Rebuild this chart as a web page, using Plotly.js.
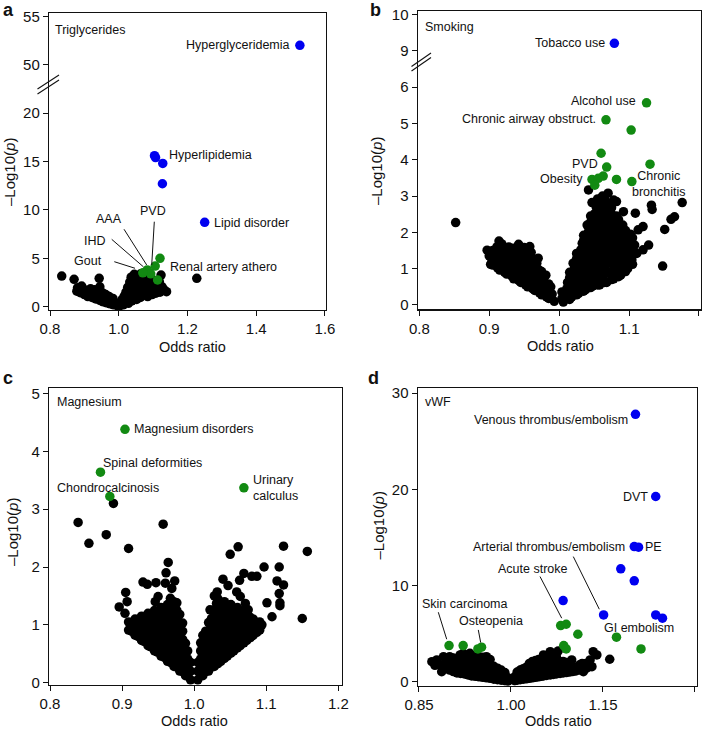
<!DOCTYPE html>
<html><head><meta charset="utf-8">
<script src="https://cdn.plot.ly/plotly-3.0.1.min.js"></script>
<style>html,body{margin:0;padding:0;background:#fff}#chart{width:709px;height:729px}</style>
</head><body><div id="chart"></div>
<script>
// ---------- DATA (odds ratio, -log10 p) ----------
const aBlack = [[0.834,3.17],[0.870,2.83],[0.943,2.93],[0.892,2.14],[1.227,2.93],[1.123,3.27],[1.118,2.58],
[0.878,1.60],[0.880,1.95],[0.888,1.45],[0.895,1.85],[0.900,1.25],[0.905,1.70],[0.910,1.05],[0.912,1.50],[0.918,1.85],[0.922,0.95],[0.925,1.35],[0.930,1.75],[0.933,0.80],[0.937,1.20],[0.940,1.60],[0.945,2.05],[0.945,0.65],[0.948,1.05],[0.952,1.45],[0.955,0.50],[0.958,0.90],[0.962,1.25],[0.965,0.40],[0.968,0.75],[0.972,1.05],[0.975,0.30],[0.978,0.60],[0.983,0.85],[0.985,0.20],[0.988,0.45],[0.993,0.25],[0.997,0.08],
[1.003,0.10],[1.007,0.40],[1.010,0.75],[1.013,0.20],[1.016,1.10],[1.018,0.50],[1.021,1.50],[1.024,0.85],[1.026,2.00],[1.028,0.35],[1.031,1.30],[1.032,2.55],[1.035,1.75],[1.036,3.05],[1.038,0.60],[1.040,2.25],[1.043,1.10],[1.045,3.35],[1.047,1.60],[1.049,2.80],[1.052,0.75],[1.054,2.05],[1.056,3.20],[1.058,1.30],[1.060,2.50],[1.063,0.95],[1.064,3.40],[1.066,1.75],[1.068,2.95],[1.070,2.20],[1.073,1.25],[1.075,3.15],[1.077,2.60],[1.079,1.70],[1.082,2.15],[1.084,1.05],[1.086,2.85],[1.089,1.50],[1.091,2.45],[1.094,1.95],[1.097,1.25],[1.099,2.75],[1.102,1.70],[1.105,2.20],[1.108,1.40],[1.111,2.55],[1.114,1.85],[1.120,1.50],[1.126,2.05],[1.132,1.75],[1.139,1.55]];
const aGreen = [[1.120,5.00],[1.106,4.20],[1.083,3.80],[1.093,3.40],[1.070,3.50],[1.113,2.76]];
const aBlue = [[1.527,52.0],[1.104,15.6],[1.107,15.4],[1.128,14.8],[1.127,12.7],[1.250,8.72]];

const bBlack = [[0.852,2.27],[1.042,3.17],[1.070,3.08],[1.047,2.82],[1.078,2.89],[1.132,2.75],[1.133,2.63],[1.176,2.82],[1.165,2.43],[1.160,2.36],[1.151,2.08],[1.148,1.07],[1.109,2.53],[1.092,2.57],[1.082,2.85],[1.120,2.16],[1.128,1.65],[1.120,1.52],[1.111,1.42],[1.104,1.24],[1.113,2.07],[1.108,1.65],[1.097,1.05],
[0.897,1.51],[0.914,1.76],[0.942,1.67],[0.958,1.61],[0.904,1.24],[0.930,1.47],[0.970,1.29],
[0.993,0.10],[0.990,0.30],[0.988,0.50],
[0.982,0.22],[0.980,0.42],[0.979,0.62],[0.981,0.82],
[0.972,0.33],[0.970,0.53],[0.969,0.75],[0.971,0.97],[0.968,1.15],
[0.962,0.45],[0.960,0.65],[0.959,0.87],[0.961,1.08],[0.958,1.30],[0.960,1.45],
[0.952,0.55],[0.950,0.77],[0.949,0.98],[0.951,1.20],[0.948,1.40],[0.950,1.58],
[0.942,0.68],[0.940,0.88],[0.939,1.10],[0.941,1.30],[0.938,1.50],
[0.932,0.80],[0.930,1.00],[0.929,1.22],[0.931,1.40],[0.928,1.60],
[0.922,0.90],[0.920,1.10],[0.919,1.32],[0.921,1.52],[0.918,1.68],
[0.912,1.02],[0.910,1.22],[0.909,1.42],[0.911,1.60],
[0.902,1.12],[0.900,1.35],
[0.985,0.18],[0.985,0.38],[0.985,0.58],
[0.975,0.28],[0.975,0.50],[0.975,0.72],[0.975,0.92],
[0.965,0.40],[0.965,0.62],[0.965,0.84],[0.965,1.05],[0.965,1.25],
[0.955,0.50],[0.955,0.72],[0.955,0.94],[0.955,1.15],[0.955,1.36],[0.955,1.52],
[0.945,0.62],[0.945,0.84],[0.945,1.05],[0.945,1.26],[0.945,1.46],
[0.935,0.72],[0.935,0.94],[0.935,1.15],[0.935,1.36],[0.935,1.56],
[0.925,0.85],[0.925,1.06],[0.925,1.27],[0.925,1.48],
[0.915,0.96],[0.915,1.18],[0.915,1.40],[0.915,1.62],
[0.905,1.10],[0.905,1.32],[0.905,1.50],
[1.006,0.08],[1.009,0.25],[1.011,0.45],[1.012,0.62],
[1.018,0.22],[1.020,0.42],[1.021,0.62],[1.019,0.82],[1.022,1.02],[1.020,1.15],
[1.028,0.32],[1.030,0.52],[1.031,0.72],[1.029,0.92],[1.032,1.12],[1.030,1.32],[1.031,1.52],[1.033,1.70],
[1.038,0.42],[1.040,0.62],[1.041,0.82],[1.039,1.02],[1.042,1.22],[1.040,1.42],[1.041,1.62],[1.039,1.82],[1.042,2.02],[1.040,2.20],
[1.048,0.52],[1.050,0.72],[1.051,0.92],[1.049,1.12],[1.052,1.32],[1.050,1.52],[1.051,1.72],[1.049,1.92],[1.052,2.12],[1.050,2.32],[1.051,2.52],[1.053,2.70],
[1.058,0.55],[1.060,0.78],[1.061,1.02],[1.059,1.22],[1.062,1.42],[1.060,1.62],[1.061,1.82],[1.059,2.02],[1.062,2.22],[1.060,2.42],[1.061,2.62],[1.059,2.82],[1.062,3.00],
[1.068,0.62],[1.070,0.90],[1.071,1.15],[1.069,1.35],[1.072,1.55],[1.070,1.75],[1.071,1.95],[1.069,2.15],[1.072,2.35],[1.070,2.55],[1.071,2.80],
[1.078,0.72],[1.080,0.98],[1.081,1.25],[1.079,1.45],[1.082,1.65],[1.080,1.85],[1.081,2.05],[1.079,2.25],[1.082,2.45],
[1.088,0.82],[1.090,1.08],[1.091,1.38],[1.089,1.58],[1.092,1.78],[1.090,1.98],[1.091,2.20],
[1.098,1.00],[1.100,1.30],[1.101,1.55],[1.099,1.75],[1.102,1.95],
[1.004,0.18],[1.004,0.36],
[1.015,0.15],[1.015,0.35],[1.015,0.55],[1.015,0.75],[1.015,0.90],
[1.025,0.28],[1.025,0.48],[1.025,0.68],[1.025,0.88],[1.025,1.08],[1.025,1.28],[1.025,1.42],
[1.035,0.38],[1.035,0.58],[1.035,0.78],[1.035,0.98],[1.035,1.18],[1.035,1.38],[1.035,1.58],[1.035,1.78],[1.035,1.92],
[1.045,0.48],[1.045,0.68],[1.045,0.88],[1.045,1.08],[1.045,1.28],[1.045,1.48],[1.045,1.68],[1.045,1.88],[1.045,2.08],[1.045,2.28],[1.045,2.45],
[1.055,0.55],[1.055,0.75],[1.055,0.95],[1.055,1.15],[1.055,1.35],[1.055,1.55],[1.055,1.75],[1.055,1.95],[1.055,2.15],[1.055,2.35],[1.055,2.55],[1.055,2.75],[1.055,2.92],
[1.065,0.62],[1.065,0.85],[1.065,1.08],[1.065,1.30],[1.065,1.52],[1.065,1.72],[1.065,1.92],[1.065,2.12],[1.065,2.32],[1.065,2.52],[1.065,2.72],[1.065,2.92],
[1.075,0.70],[1.075,0.92],[1.075,1.15],[1.075,1.38],[1.075,1.60],[1.075,1.82],[1.075,2.05],[1.075,2.28],[1.075,2.50],[1.075,2.68],
[1.085,0.78],[1.085,1.02],[1.085,1.25],[1.085,1.48],[1.085,1.70],[1.085,1.92],[1.085,2.15],[1.085,2.35],
[1.095,0.92],[1.095,1.18],[1.095,1.42],[1.095,1.65],[1.095,1.88],[1.095,2.05],
[1.105,1.12],[1.105,1.40],[1.105,1.62],[1.105,1.85]];
const bGreen = [[1.125,5.57],[1.067,5.10],[1.103,4.82],[1.060,4.18],[1.068,3.80],[1.130,3.88],[1.047,3.46],[1.056,3.49],[1.063,3.55],[1.082,3.46],[1.104,3.40],[1.051,3.30]];
const bBlue = [[1.079,9.21]];

const cBlack = [[0.888,3.10],[0.839,2.77],[0.878,2.56],[0.854,2.41],[0.909,2.32],[0.957,2.74],
[0.964,2.08],[0.961,1.90],[0.973,1.76],[0.929,1.74],[0.935,1.70],[0.947,1.73],[0.960,1.72],[0.969,1.63],[0.905,1.56],[0.907,1.40],[0.896,1.31],[0.904,1.20],[0.913,1.03],[0.950,1.49],[0.946,1.40],[0.939,1.14],[0.925,1.00],
[1.124,2.36],[1.157,2.27],[1.061,2.35],[1.050,2.22],[1.097,2.00],[1.118,2.00],[1.069,1.89],[1.080,1.84],[1.087,1.84],[1.040,1.79],[1.063,1.77],[1.115,1.76],[1.124,1.69],[1.047,1.68],[1.032,1.57],[1.059,1.57],[1.118,1.54],[1.028,1.50],[1.064,1.49],[1.101,1.38],[1.119,1.38],[1.119,1.33],[1.071,1.37],[1.075,1.26],[1.108,1.14],[1.077,1.14],[1.150,1.11],[1.094,1.00],[1.082,0.97],[1.031,1.37],[1.022,1.26],
[0.995,0.05],[0.995,0.20],[0.995,0.35],
[0.988,0.12],[0.988,0.26],[0.988,0.40],[0.988,0.54],[0.988,0.68],
[0.980,0.20],[0.980,0.34],[0.980,0.48],[0.980,0.62],[0.980,0.76],[0.980,0.90],[0.980,1.04],[0.980,1.18],
[0.972,0.28],[0.972,0.42],[0.972,0.56],[0.972,0.70],[0.972,0.84],[0.972,0.98],[0.972,1.12],[0.972,1.26],[0.972,1.40],
[0.963,0.37],[0.963,0.51],[0.963,0.65],[0.963,0.79],[0.963,0.93],[0.963,1.07],[0.963,1.21],[0.963,1.35],
[0.954,0.46],[0.954,0.60],[0.954,0.74],[0.954,0.88],[0.954,1.02],[0.954,1.16],[0.954,1.30],
[0.945,0.55],[0.945,0.69],[0.945,0.83],[0.945,0.97],[0.945,1.11],[0.945,1.25],
[0.936,0.64],[0.936,0.78],[0.936,0.92],[0.936,1.06],[0.936,1.20],
[0.927,0.73],[0.927,0.87],[0.927,1.01],[0.927,1.15],
[0.918,0.82],[0.918,0.96],[0.918,1.10],
[0.909,0.91],[0.909,1.05],
[0.991,0.13],[0.991,0.27],[0.991,0.41],[0.991,0.55],
[0.984,0.19],[0.984,0.33],[0.984,0.47],[0.984,0.61],[0.984,0.75],[0.984,0.89],[0.984,1.03],
[0.976,0.27],[0.976,0.41],[0.976,0.55],[0.976,0.69],[0.976,0.83],[0.976,0.97],[0.976,1.11],[0.976,1.25],[0.976,1.38],
[0.967,0.35],[0.967,0.49],[0.967,0.63],[0.967,0.77],[0.967,0.91],[0.967,1.05],[0.967,1.19],[0.967,1.33],[0.967,1.46],
[0.958,0.44],[0.958,0.58],[0.958,0.72],[0.958,0.86],[0.958,1.00],[0.958,1.14],[0.958,1.28],
[0.949,0.53],[0.949,0.67],[0.949,0.81],[0.949,0.95],[0.949,1.09],[0.949,1.23],
[0.940,0.62],[0.940,0.76],[0.940,0.90],[0.940,1.04],[0.940,1.18],
[0.931,0.71],[0.931,0.85],[0.931,0.99],[0.931,1.12],
[0.922,0.80],[0.922,0.94],[0.922,1.08],
[0.913,0.89],[0.913,1.02],
[1.005,0.05],[1.005,0.20],[1.005,0.35],
[1.012,0.12],[1.012,0.26],[1.012,0.40],[1.012,0.54],[1.012,0.68],[1.012,0.82],
[1.020,0.20],[1.020,0.34],[1.020,0.48],[1.020,0.62],[1.020,0.76],[1.020,0.90],[1.020,1.04],
[1.028,0.28],[1.028,0.42],[1.028,0.56],[1.028,0.70],[1.028,0.84],[1.028,0.98],[1.028,1.12],[1.028,1.26],
[1.037,0.37],[1.037,0.51],[1.037,0.65],[1.037,0.79],[1.037,0.93],[1.037,1.07],[1.037,1.21],[1.037,1.35],
[1.046,0.46],[1.046,0.60],[1.046,0.74],[1.046,0.88],[1.046,1.02],[1.046,1.16],[1.046,1.30],
[1.055,0.55],[1.055,0.69],[1.055,0.83],[1.055,0.97],[1.055,1.11],[1.055,1.25],
[1.064,0.64],[1.064,0.78],[1.064,0.92],[1.064,1.06],[1.064,1.20],
[1.073,0.73],[1.073,0.87],[1.073,1.01],[1.073,1.15],
[1.082,0.82],[1.082,0.96],[1.082,1.10],
[1.091,0.91],[1.091,1.05],
[1.009,0.13],[1.009,0.27],[1.009,0.41],[1.009,0.55],[1.009,0.69],
[1.016,0.19],[1.016,0.33],[1.016,0.47],[1.016,0.61],[1.016,0.75],[1.016,0.89],
[1.024,0.27],[1.024,0.41],[1.024,0.55],[1.024,0.69],[1.024,0.83],[1.024,0.97],[1.024,1.11],
[1.033,0.33],[1.033,0.47],[1.033,0.61],[1.033,0.75],[1.033,0.89],[1.033,1.03],[1.033,1.17],[1.033,1.31],[1.033,1.45],
[1.042,0.42],[1.042,0.56],[1.042,0.70],[1.042,0.84],[1.042,0.98],[1.042,1.12],[1.042,1.26],[1.042,1.40],
[1.051,0.51],[1.051,0.65],[1.051,0.79],[1.051,0.93],[1.051,1.07],[1.051,1.21],[1.051,1.35],
[1.060,0.60],[1.060,0.74],[1.060,0.88],[1.060,1.02],[1.060,1.16],[1.060,1.30],
[1.069,0.69],[1.069,0.83],[1.069,0.97],[1.069,1.11],[1.069,1.25],
[1.078,0.78],[1.078,0.92],[1.078,1.06],
[1.087,0.87],[1.087,1.00]];
const cGreen = [[0.904,4.38],[0.870,3.64],[0.883,3.22],[1.069,3.37]];

const dBlack = [[0.871,2.08],[0.879,2.26],[0.887,1.04],[0.890,2.60],[0.884,1.74],[0.895,1.39],
[0.900,1.20],[0.900,1.90],[0.900,2.60],
[0.912,0.90],[0.912,1.60],[0.912,2.30],[0.917,2.78],
[0.924,0.80],[0.924,1.50],[0.924,2.20],[0.922,2.95],
[0.936,0.60],[0.936,1.30],[0.936,2.00],[0.936,2.70],[0.933,2.95],
[0.948,0.50],[0.948,1.20],[0.948,1.90],[0.948,2.60],
[0.960,0.40],[0.960,1.10],[0.960,1.80],[0.960,2.60],
[0.972,0.25],[0.972,0.90],[0.972,1.60],
[0.984,0.15],[0.984,0.70],[0.984,1.20],
[0.995,0.05],[0.995,0.40],
[0.876,1.70],[0.894,1.80],[0.894,2.20],[0.906,1.05],[0.906,1.75],[0.906,2.45],
[0.918,0.85],[0.918,1.20],[0.918,1.90],[0.918,2.50],
[0.930,0.70],[0.930,1.40],[0.930,2.10],[0.930,2.75],
[0.942,0.55],[0.942,1.25],[0.942,1.95],[0.942,2.65],
[0.954,0.45],[0.954,1.15],[0.954,1.85],[0.954,2.55],
[0.966,0.35],[0.966,1.00],[0.966,1.70],[0.966,2.30],
[0.978,0.20],[0.978,0.80],[0.978,1.40],
[0.990,0.10],[0.990,0.55],[0.990,0.95],
[1.006,0.10],[1.006,0.50],
[1.015,0.20],[1.015,0.80],[1.015,1.20],
[1.025,0.30],[1.025,0.90],[1.025,1.50],
[1.035,0.40],[1.035,1.00],[1.035,1.60],[1.035,2.10],
[1.045,0.50],[1.045,1.10],[1.045,1.70],[1.045,2.30],
[1.053,0.60],[1.053,1.20],[1.053,1.80],[1.053,2.40],[1.053,2.78],
[1.064,0.70],[1.064,1.30],[1.064,1.90],[1.064,2.50],[1.064,3.12],
[1.074,0.80],[1.074,1.40],[1.074,2.00],[1.074,2.60],[1.077,3.19],
[1.085,0.90],[1.085,1.50],[1.085,2.10],
[1.095,1.00],[1.095,1.60],[1.099,2.26],
[1.105,1.10],[1.107,1.39],[1.110,1.50],
[1.118,1.04],[1.116,1.90],[1.126,1.50],[1.129,2.26],[1.132,1.56],[1.134,3.12],[1.140,2.78],[1.161,2.33],
[1.010,0.15],[1.010,0.60],[1.010,1.00],
[1.020,0.25],[1.020,0.85],[1.020,1.35],
[1.030,0.35],[1.030,0.95],[1.030,1.55],[1.030,1.90],
[1.040,0.45],[1.040,1.05],[1.040,1.65],[1.040,2.20],
[1.049,0.55],[1.049,1.15],[1.049,1.75],[1.049,2.35],
[1.058,0.65],[1.058,1.25],[1.058,1.85],[1.058,2.45],
[1.069,0.75],[1.069,1.35],[1.069,1.95],[1.069,2.55],
[1.080,0.85],[1.080,1.45],[1.080,2.05],
[1.090,0.95],[1.090,1.55],[1.090,2.00],
[1.100,1.05],[1.100,1.65],
[1.112,1.20],[1.112,1.75],
[1.122,1.35],[1.122,1.90]];
const dGreen = [[1.081,5.83],[1.090,5.97],[1.109,4.93],[1.172,4.62],[1.212,3.40],[1.086,3.75],[1.090,3.40],[0.899,3.75],[0.922,3.75],[0.946,3.40],[0.952,3.58]];
const dBlue = [[1.203,27.8],[1.236,19.25],[1.201,14.05],[1.208,13.98],[1.179,11.73],[1.201,10.48],[1.085,8.43],[1.151,6.94],[1.236,6.94],[1.247,6.60]];

const xTicksA = [0.8,1.0,1.2,1.4,1.6];
const xTickTextA = ['0.8','1.0','1.2','1.4','1.6'];
const xTicksBC = [0.8,0.9,1.0,1.1,1.2];
const xTickTextBC = ['0.8','0.9','1.0','1.1','1.2'];
const xTicksD = [0.85,1.00,1.15,1.30];
const xTickTextD = ['0.85','1.00','1.15','1.30'];
const yTicksA = [0,5,10,15,20,50,55];
const yTicksB = [0,1,2,3,4,5,6,9,10];
const yTicksC = [0,1,2,3,4,5];
const yTicksD = [0,10,20,30];

// ---------- broken-axis transforms ----------
const tA = y => (y >= 25 ? y - 25 : y);
const tB = y => (y >= 7.5 ? y - 2 : y);
const ident = y => y;

const W = 709, H = 729;
const PX = p => p / W, PY = p => 1 - p / H;
const FONT = '"Liberation Sans", Arial, sans-serif';
const BLACK = '#000000', GREEN = '#128a12', BLUE = '#0000f0';

function tr(pts, color, xa, ya, tf, size) {
  return {type:'scatter', mode:'markers', x: pts.map(p=>p[0]), y: pts.map(p=>tf(p[1])),
    xaxis: xa, yaxis: ya, hoverinfo:'skip',
    marker:{color: color, size: size, line:{width:0}}};
}
const data = [
  tr(aBlack,BLACK,'x','y',tA,9.5), tr(aGreen,GREEN,'x','y',tA,9.5), tr(aBlue,BLUE,'x','y',tA,9.5),
  tr(bBlack,BLACK,'x2','y2',tB,9.5), tr(bGreen,GREEN,'x2','y2',tB,9.5), tr(bBlue,BLUE,'x2','y2',tB,9.5),
  tr(cBlack,BLACK,'x3','y3',ident,9.5), tr(cGreen,GREEN,'x3','y3',ident,9.5),
  tr(dBlack,BLACK,'x4','y4',ident,9.5), tr(dGreen,GREEN,'x4','y4',ident,9.5), tr(dBlue,BLUE,'x4','y4',ident,9.5)
];

function ax(domain, range, vals, text, anchor) {
  return {domain: domain, range: range, tickvals: vals, ticktext: text, anchor: anchor,
    showline:true, mirror:true, linecolor:'#111', linewidth:1.2, ticks:'outside', ticklen:5,
    tickwidth:1, tickcolor:'#111', showgrid:false, zeroline:false, fixedrange:true,
    tickfont:{family:FONT, size:15, color:'#111'}};
}

const layout = {
  width: W, height: H, margin:{l:0,r:0,t:0,b:0}, showlegend:false,
  paper_bgcolor:'#fff', plot_bgcolor:'#fff', font:{family:FONT, color:'#111'},
  xaxis:  ax([PX(49), PX(326)], [0.797, 1.603], xTicksA, xTickTextA, 'y'),
  yaxis:  ax([PY(310), PY(12.7)], [-0.34, 30.37], yTicksA.map(tA), yTicksA.map(String), 'x'),
  xaxis2: ax([PX(417.7), PX(701)], [0.7977, 1.2029], xTicksBC, xTickTextBC, 'y2'),
  yaxis2: ax([PY(309.3), PY(11)], [-0.12, 8.1], yTicksB.map(tB), yTicksB.map(String), 'x2'),
  xaxis3: ax([PX(49), PX(341.7)], [0.7986, 1.2047], xTicksBC, xTickTextBC, 'y3'),
  yaxis3: ax([PY(685), PY(388.3)], [-0.04, 5.09], yTicksC, yTicksC.map(String), 'x3'),
  xaxis4: ax([PX(417.7), PX(696.7)], [0.8479, 1.3028], xTicksD, xTickTextD, 'y4'),
  yaxis4: ax([PY(685.7), PY(388.3)], [-0.42, 30.5], yTicksD, yTicksD.map(String), 'x4'),
  annotations: [], shapes: []
};

function lab(xr, yr, x, y, text, xanchor, extra) {
  layout.annotations.push(Object.assign({xref:xr, yref:yr, x:x, y:y, text:text, showarrow:false,
    xanchor:xanchor, yanchor:'middle', font:{family:FONT, size:12.5, color:'#111'}}, extra||{}));
}
function seg(xr, yr, x0, y0, x1, y1) {
  layout.shapes.push({type:'line', xref:xr, yref:yr, x0:x0, y0:y0, x1:x1, y1:y1, line:{color:'#111', width:1}});
}
function pap(x, y, text, size, extra) {
  layout.annotations.push(Object.assign({xref:'paper', yref:'paper', x:PX(x), y:PY(y), text:text, showarrow:false,
    xanchor:'center', yanchor:'middle', borderpad:0, font:{family:FONT, size:size, color:'#111'}}, extra||{}));
}

// panel a
lab('x','y',0.8096,28.58,'Triglycerides','left');
lab('x','y',1.503,27.03,'Hyperglyceridemia','right');
lab('x','y',1.1395,15.67,'Hyperlipidemia','left');
lab('x','y',1.272,8.62,'Lipid disorder','left');
lab('x','y',1.1424,4.13,'Renal artery athero','left');
lab('x','y',1.1005,9.92,'PVD','center');
lab('x','y',0.9725,9.03,'AAA','center');
lab('x','y',0.931,6.82,'IHD','center');
lab('x','y',0.9114,4.75,'Gout','center');
seg('x','y',1.1034,8.78,1.0959,4.31);
seg('x','y',1.0153,8.0,1.0813,4.31);
seg('x','y',0.9795,6.96,1.0714,4.13);
seg('x','y',0.987,4.65,1.0473,3.97);
// panel b
lab('x2','y2',0.8049,7.67,'Smoking','left');
lab('x2','y2',1.068,7.21,'Tobacco use','right');
lab('x2','y2',1.1132,5.63,'Alcohol use','right');
lab('x2','y2',1.056,5.12,'Chronic airway obstruct.','right');
lab('x2','y2',1.0584,3.88,'PVD','right');
lab('x2','y2',1.037,3.47,'Obesity','right');
lab('x2','y2',1.1428,3.34,'Chronic<br>bronchitis','center');
// panel c
lab('x3','y3',0.8069,4.85,'Magnesium','left');
lab('x3','y3',0.9141,4.38,'Magnesium disorders','left');
lab('x3','y3',0.8707,3.79,'Spinal deformities','left');
lab('x3','y3',0.8069,3.37,'Chondrocalcinosis','left');
lab('x3','y3',1.0784,3.36,'Urinary<br>calculus','left',{align:'left'});
// panel d
lab('x4','y4',0.856,29.03,'vWF','left');
lab('x4','y4',1.194,27.16,'Venous thrombus/embolism','right');
lab('x4','y4',1.2266,19.25,'DVT','right');
lab('x4','y4',1.2157,14.05,'PE','left');
lab('x4','y4',1.1891,14.05,'Arterial thrombus/embolism','right');
lab('x4','y4',1.0354,11.73,'Acute stroke','center');
lab('x4','y4',1.1489,5.62,'GI embolism','left');
lab('x4','y4',0.925,8.05,'Skin carcinoma','center');
lab('x4','y4',0.9674,6.35,'Osteopenia','center');
seg('x4','y4',1.0473,10.93,1.0827,6.6);
seg('x4','y4',1.1016,13.0,1.144,7.53);
seg('x4','y4',0.8815,7.22,0.8952,4.41);
seg('x4','y4',0.9467,5.38,0.9506,4.06);

// axis titles
const YT = '–Log10(<i>p</i>)';
pap(9, 172, YT, 15, {textangle:-90});
pap(377, 171, YT, 15, {textangle:-90});
pap(12, 532, YT, 15, {textangle:-90});
pap(377.5, 525, YT, 15, {textangle:-90});
pap(192.5, 347, 'Odds ratio', 14.5);
pap(560, 346, 'Odds ratio', 14.5);
pap(194, 720.5, 'Odds ratio', 14.5);
pap(558, 720.5, 'Odds ratio', 14.5);
// panel letters
pap(1.5, 10.5, '<b>a</b>', 18, {xanchor:'left'});
pap(369, 10, '<b>b</b>', 18, {xanchor:'left'});
pap(1.5, 378.5, '<b>c</b>', 18, {xanchor:'left'});
pap(367, 378.5, '<b>d</b>', 18, {xanchor:'left'});

// axis break marks
function brk(x0, y0, x1, y1) {
  layout.shapes.push({type:'line', xref:'paper', yref:'paper', x0:PX(x0), y0:PY(y0), x1:PX(x1), y1:PY(y1), line:{color:'#111', width:1.1}});
}
brk(37.5, 94, 59, 80); brk(37.5, 89, 59, 75);
brk(411.5, 71, 431, 57.5); brk(411.5, 66.5, 431, 53);

Plotly.newPlot('chart', data, layout, {displayModeBar:false, staticPlot:true});
</script></body></html>
